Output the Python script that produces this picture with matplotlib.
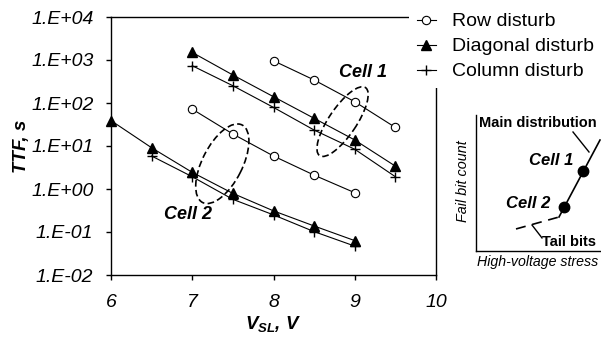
import matplotlib
matplotlib.use('Agg')
import matplotlib.pyplot as plt
from matplotlib.lines import Line2D
from matplotlib.patches import Ellipse
import matplotlib.transforms as mtransforms

plt.rcParams['font.family'] = ['Liberation Sans', 'DejaVu Sans']
plt.rcParams['mathtext.fontset'] = 'custom'
plt.rcParams['mathtext.it'] = 'Liberation Sans:italic:bold'
plt.rcParams['mathtext.rm'] = 'Liberation Sans:italic:bold'

# --- main chart data (V_SL in volts, TTF in seconds) ---
row_hi_x = [8.0, 8.5, 9.0, 9.5]
row_hi_y = [960, 343, 107, 27]
row_lo_x = [7.0, 7.5, 8.0, 8.5, 9.0]
row_lo_y = [72, 19, 5.85, 2.1, 0.82]

diag_hi_x = [7.0, 7.5, 8.0, 8.5, 9.0, 9.5]
diag_hi_y = [1500, 448, 140, 44, 13.8, 3.4]
diag_lo_x = [6.0, 6.5, 7.0, 7.5, 8.0, 8.5, 9.0]
diag_lo_y = [39, 9.1, 2.44, 0.79, 0.31, 0.138, 0.063]

col_hi_x = [7.0, 7.5, 8.0, 8.5, 9.0, 9.5]
col_hi_y = [736, 252, 79, 23.5, 8.4, 1.93]
col_lo_x = [6.5, 7.0, 7.5, 8.0, 8.5, 9.0]
col_lo_y = [5.85, 1.93, 0.575, 0.25, 0.102, 0.047]

series_labels = ['Row disturb', 'Diagonal disturb', 'Column disturb']
x_ticks = [6, 7, 8, 9, 10]
y_ticks = [1e-2, 1e-1, 1e0, 1e1, 1e2, 1e3, 1e4]
y_tick_labels = ['1.E-02', '1.E-01', '1.E+00', '1.E+01', '1.E+02', '1.E+03', '1.E+04']

# --- inset schematic (axes fraction coordinates) ---
main_dist_x = [0.664, 0.992]
main_dist_y = [0.25, 0.816]
tail_x = [0.32, 0.664]
tail_y = [0.162, 0.25]
cell_dots_x = [0.854, 0.704]
cell_dots_y = [0.59, 0.325]

fig = plt.figure(figsize=(6.01, 3.48), dpi=100)
ax = fig.add_axes([111 / 601, 1 - 275 / 348, 325 / 601, 258 / 348])

line_kw = dict(color='black', linewidth=0.8, clip_on=False)
ax.plot(row_hi_x, row_hi_y, marker='o', ms=6, mfc='white', mec='black', mew=0.8, **line_kw)
ax.plot(row_lo_x, row_lo_y, marker='o', ms=6, mfc='white', mec='black', mew=0.8, **line_kw)
ax.plot(diag_hi_x, diag_hi_y, marker='^', ms=7, mfc='black', mec='black', **line_kw)
ax.plot(diag_lo_x, diag_lo_y, marker='^', ms=7, mfc='black', mec='black', **line_kw)
ax.plot(col_hi_x, col_hi_y, marker='+', ms=7, mec='black', mew=1.0, **line_kw)
ax.plot(col_lo_x, col_lo_y, marker='+', ms=7, mec='black', mew=1.0, **line_kw)

ax.set_yscale('log')
ax.set_xlim(6, 10)
ax.set_ylim(1e-2, 1e4)
ax.set_xticks(x_ticks)
ax.set_xticklabels([str(v) for v in x_ticks], fontsize=14, style='italic')
ax.set_yticks(y_ticks)
ax.set_yticklabels(y_tick_labels, fontsize=14, style='italic')
ax.minorticks_off()
ax.tick_params(axis='both', direction='out', length=3.6, width=1)
ax.tick_params(axis='y', pad=9)
ax.tick_params(axis='x', pad=10)
for s in ax.spines.values():
    s.set_linewidth(1)

ax.set_ylabel('TTF, s', fontsize=13.5, fontweight='bold', style='italic', labelpad=1)
ax.set_xlabel(r'$V_{SL}$, V', fontsize=13.5, fontweight='bold', style='italic', labelpad=2)

# dashed ellipses marking the two cells
for cx, cy, w, h, ang in [(8.85, 36.9, 0.82, 0.276, 56), (7.37, 3.87, 0.87, 0.40, 63)]:
    tr = fig.dpi_scale_trans + mtransforms.ScaledTranslation(cx, cy, ax.transData)
    ax.add_patch(Ellipse((0, 0), w, h, angle=ang, transform=tr, fill=False,
                         edgecolor='black', linewidth=1.2, linestyle=(0, (4, 2))))
ax.text(9.1, 500, 'Cell 1', fontsize=13, fontweight='bold', style='italic', ha='center', va='center')
ax.text(6.95, 0.25, 'Cell 2', fontsize=13, fontweight='bold', style='italic', ha='center', va='center')

handles = [
    Line2D([], [], color='black', lw=0.8, marker='o', ms=6, mfc='white', mec='black', mew=0.8),
    Line2D([], [], color='black', lw=0.8, marker='^', ms=7, mfc='black', mec='black'),
    Line2D([], [], color='black', lw=0.8, marker='+', ms=7, mec='black', mew=1.0),
]
leg = ax.legend(handles, series_labels, loc='upper left', bbox_to_anchor=(409 / 601, 1 - 5 / 348),
                bbox_transform=fig.transFigure, borderaxespad=0, borderpad=0.4,
                handlelength=1.0, handletextpad=0.8, labelspacing=0.38, fontsize=14,
                frameon=True, facecolor='white', edgecolor='none', framealpha=1)
leg.set_zorder(10)

# inset schematic
ins = fig.add_axes([476 / 601, 1 - 251 / 348, 125 / 601, 136 / 348])
ins.set_xlim(0, 1)
ins.set_ylim(0, 1)
ins.set_xticks([])
ins.set_yticks([])
ins.spines['top'].set_visible(False)
ins.spines['right'].set_visible(False)
ins.spines['left'].set_linewidth(1)
ins.spines['bottom'].set_linewidth(1)
ins.patch.set_alpha(0)

ins.plot(main_dist_x, main_dist_y, color='black', lw=1.2, clip_on=False)
ins.plot(tail_x, tail_y, color='black', lw=1.2, linestyle=(0, (6, 4)), clip_on=False)
ins.plot(cell_dots_x, cell_dots_y, linestyle='none', marker='o', ms=7.5, color='black')
ins.plot([0.776, 0.904], [0.875, 0.728], color='black', lw=1)
ins.plot([0.448, 0.528], [0.191, 0.096], color='black', lw=1)

ins.text(0.024, 0.941, 'Main distribution', fontsize=10.5, fontweight='bold', ha='left', va='center')
ins.text(0.776, 0.669, 'Cell 1', fontsize=12, fontweight='bold', style='italic', ha='right', va='center')
ins.text(0.592, 0.346, 'Cell 2', fontsize=12, fontweight='bold', style='italic', ha='right', va='center')
ins.text(0.528, 0.066, 'Tail bits', fontsize=10.5, fontweight='bold', ha='left', va='center')
ins.text(-0.104, 0.515, 'Fail bit count', fontsize=10.4, style='italic', rotation=90,
         ha='center', va='center', transform=ins.transAxes)
ins.text(0.008, -0.081, 'High-voltage stress', fontsize=10.2, style='italic',
         ha='left', va='center', transform=ins.transAxes)

plt.savefig('out.png', dpi=100)
plt.close()
